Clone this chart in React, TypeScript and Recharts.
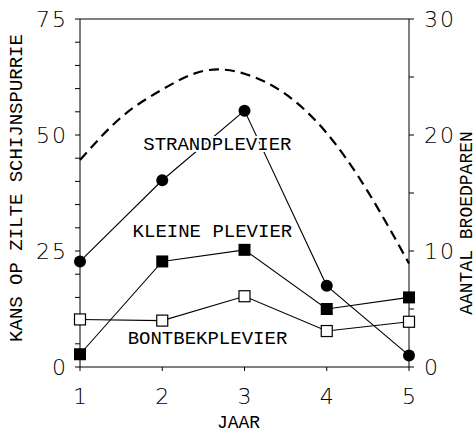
import { LineChart, Line, XAxis, YAxis, ReferenceLine, ReferenceDot, Label } from "recharts"

// jaar 1..5
const years = [1, 2, 3, 4, 5]
// aantal broedparen (rechter as)
const strandplevier = [9.1, 16.1, 22.1, 7.0, 1.0]
const kleinePlevier = [1.1, 9.1, 10.1, 5.0, 6.0]
const bontbekplevier = [4.1, 4.0, 6.1, 3.1, 3.9]

// kans op zilte schijnspurrie (linker as), gestippelde curve
const kansJaar = [1, 1.5, 2, 2.5, 3, 3.5, 4, 4.5, 5]
const kans = [44.6, 53.8, 59.8, 63.8, 63.2, 58.8, 50.4, 37.8, 22.3]

const leftTicks = [0, 5, 10, 15, 20, 25, 30, 35, 40, 45, 50, 55, 60, 65, 70, 75]
const leftLabels = [0, 25, 50, 75]
const rightTicks = [0, 5, 10, 15, 20, 25, 30]
const rightLabels = [0, 10, 20, 30]

// soortnamen in de grafiek
const soortNamen = ["STRANDPLEVIER", "KLEINE PLEVIER", "BONTBEKPLEVIER"]
const soortNaamJaar = [2.67, 2.61, 2.55]
const soortNaamKans = [47.8, 29.0, 6.0]

const birdData = years.map((jaar, i) => ({
  jaar,
  strand: strandplevier[i],
  klein: kleinePlevier[i],
  bontbek: bontbekplevier[i],
}))
const kansData = kansJaar.map((jaar, i) => ({ jaar, kans: kans[i] }))
const annotations = soortNamen.map((naam, i) => ({ naam, x: soortNaamJaar[i], y: soortNaamKans[i] }))

const MONO = "'Liberation Mono', 'Courier New', monospace"
const NUM = "'DejaVu Sans', sans-serif"

const numTick = (labels: number[], anchor: "start" | "end") => (props: any) => {
  const { x, y, payload } = props
  if (!labels.includes(payload.value)) return <g />
  return (
    <text
      x={anchor === "end" ? x + 2 : x}
      y={y}
      textAnchor={anchor}
      dominantBaseline="central"
      fontFamily={NUM}
      fontWeight={200}
      fontSize={22}
      letterSpacing={2}
      fill="#000"
    >
      {payload.value}
    </text>
  )
}

const xTick = (props: any) => (
  <text x={props.x} y={props.y + 15} textAnchor="middle" fontFamily={NUM} fontWeight={200} fontSize={22} fill="#000">
    {props.payload.value}
  </text>
)

const filledCircle = (p: any) => <circle key={`c${p.index}`} cx={p.cx} cy={p.cy} r={6} fill="#000" />
const filledSquare = (p: any) => <rect key={`s${p.index}`} x={p.cx - 6} y={p.cy - 6} width={12} height={12} fill="#000" />
const openSquare = (p: any) => (
  <rect key={`o${p.index}`} x={p.cx - 5.5} y={p.cy - 5.5} width={11} height={11} fill="#fff" stroke="#000" strokeWidth={1.2} />
)

export default function App() {
  return (
    <div style={{ position: "absolute", left: 0, top: 0, background: "#fff" }}>
      <LineChart width={476} height={433} data={birdData} margin={{ top: 19, right: 0, bottom: 0, left: 0 }}>
        <XAxis
          dataKey="jaar"
          type="number"
          domain={[1, 5]}
          ticks={years}
          height={66}
          stroke="#000"
          tickSize={4}
          tickMargin={18}
          tick={xTick}
        >
          <Label
            content={(props: any) => {
              const vb = props.viewBox
              return (
                <text x={vb.x + vb.width / 2 - 6} y={vb.y + 61} textAnchor="middle" fontFamily={MONO} fontSize={18} fill="#000">
                  JAAR
                </text>
              )
            }}
          />
        </XAxis>
        <YAxis
          yAxisId="left"
          domain={[0, 75]}
          ticks={leftTicks}
          interval={0}
          width={80}
          stroke="#000"
          tickSize={5}
          tickMargin={9}
          tick={numTick(leftLabels, "end")}
        >
          <Label
            content={(props: any) => {
              const vb = props.viewBox
              const cx = vb.x + 17
              const cy = vb.y + vb.height / 2 - 5
              return (
                <text x={cx} y={cy} transform={`rotate(-90 ${cx} ${cy})`} textAnchor="middle" dominantBaseline="central" fontFamily={MONO} fontSize={19} fill="#000">
                  KANS OP ZILTE SCHIJNSPURRIE
                </text>
              )
            }}
          />
        </YAxis>
        <YAxis
          yAxisId="right"
          orientation="right"
          domain={[0, 30]}
          ticks={rightTicks}
          interval={0}
          width={67}
          stroke="#000"
          tickSize={5}
          tickMargin={10}
          tick={numTick(rightLabels, "start")}
        >
          <Label
            content={(props: any) => {
              const vb = props.viewBox
              const cx = vb.x + 58
              const cy = vb.y + vb.height / 2 + 30
              return (
                <text x={cx} y={cy} transform={`rotate(-90 ${cx} ${cy})`} textAnchor="middle" dominantBaseline="central" fontFamily={MONO} fontSize={18} fill="#000">
                  AANTAL BROEDPAREN
                </text>
              )
            }}
          />
        </YAxis>
        <ReferenceLine yAxisId="left" y={75} stroke="#000" strokeWidth={1.2} />
        <Line
          yAxisId="left"
          data={kansData}
          dataKey="kans"
          type="natural"
          stroke="#000"
          strokeWidth={2.2}
          strokeDasharray="10 6"
          dot={false}
          isAnimationActive={false}
        />
        <Line yAxisId="right" dataKey="strand" stroke="#000" strokeWidth={1.1} dot={filledCircle} isAnimationActive={false} />
        <Line yAxisId="right" dataKey="klein" stroke="#000" strokeWidth={1.1} dot={filledSquare} isAnimationActive={false} />
        <Line yAxisId="right" dataKey="bontbek" stroke="#000" strokeWidth={1.1} dot={openSquare} isAnimationActive={false} />
        {annotations.map((a) => (
          <ReferenceDot
            key={a.naam}
            yAxisId="left"
            x={a.x}
            y={a.y}
            r={0}
            shape={(p: any) => (
              <text x={p.cx} y={p.cy} textAnchor="middle" dominantBaseline="central" fontFamily={MONO} fontSize={19} fill="#000" stroke="#fff" strokeWidth={4} paintOrder="stroke">
                {a.naam}
              </text>
            )}
          />
        ))}
      </LineChart>
    </div>
  )
}
